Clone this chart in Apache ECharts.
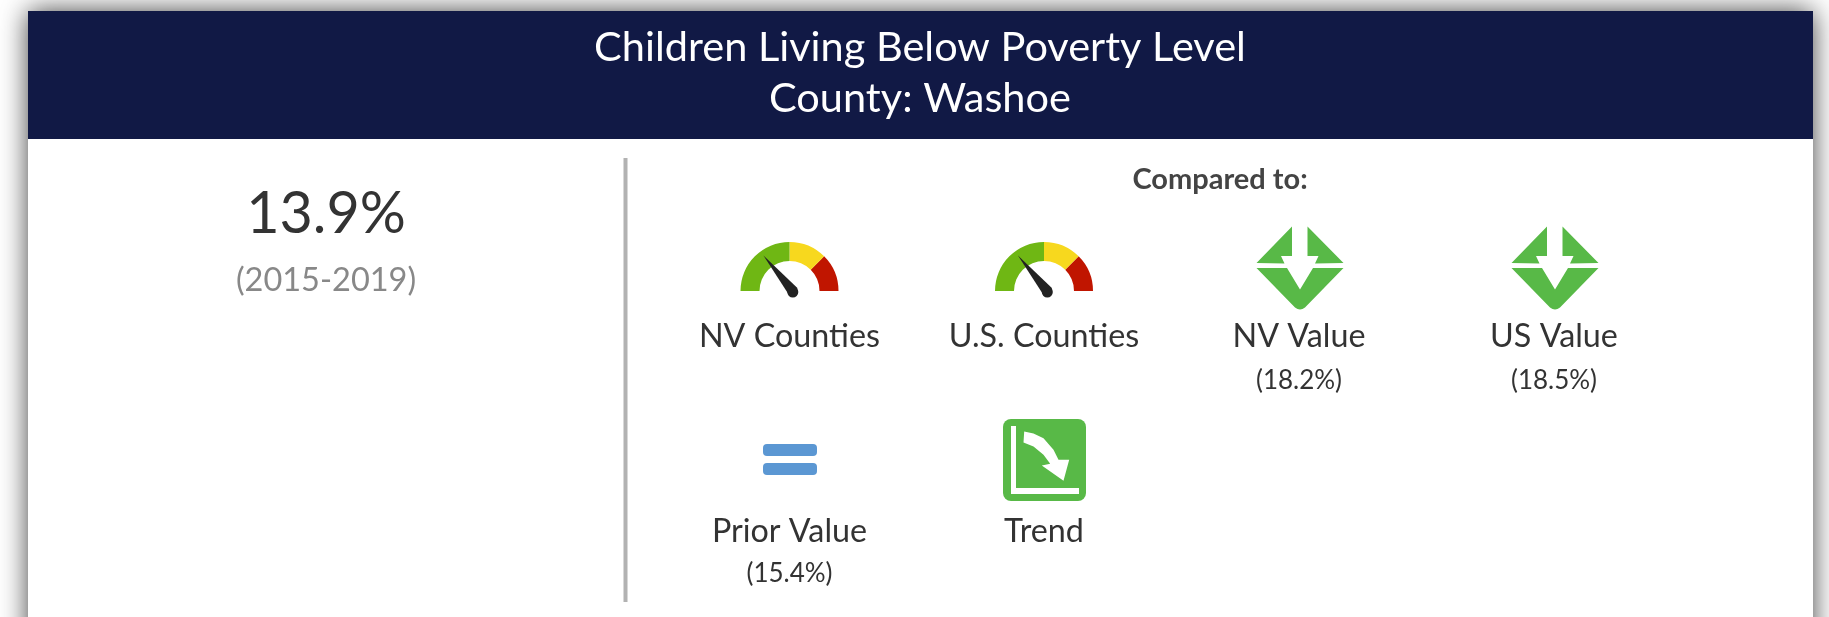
<!DOCTYPE html>
<html>
<head>
<meta charset="utf-8">
<title>Children Living Below Poverty Level</title>
<style>
html, body { margin: 0; padding: 0; background: #fff; }
#chart { width: 1829px; height: 617px; }
</style>
<script src="https://cdn.jsdelivr.net/npm/echarts@6/dist/echarts.min.js"></script>
</head>
<body>
<div id="chart"></div>
<script>
var titleLines = ['Children Living Below Poverty Level', 'County: Washoe'];
var mainValue = 13.9;
var period = '(2015-2019)';
var comparedTitle = 'Compared to:';
var itemLabels = ['NV Counties', 'U.S. Counties', 'NV Value', 'US Value', 'Prior Value', 'Trend'];
var itemValues = [null, null, 18.2, 18.5, 15.4, null];
var gaugeValues = [0.28, 0.28];

var FONT = 'Lato, "Open Sans", sans-serif';
var itemX = [789.5, 1044, 1299, 1554, 789.5, 1044];
var labelY = [337, 337, 337, 337, 532, 532];
var valueY = [381, 381, 381, 381, 574, 574];

// icon outlines, in px around the icon's own origin
var diamondParts = [
    [[-43.5, -2], [-8, -38.5], [-8, -9], [-19, -9], [-15.5, -1.5]],
    [[43.5, -2], [7.5, -38.5], [7.5, -9], [18.5, -9], [15, -1.5]],
    [[-43.5, 3], [-13, 3], [0, 24.5], [13, 3], [43.5, 3], [5, 42.5], [2.5, 44], [0, 44.5], [-2.5, 44], [-5, 42.5]]
];
var trendArrow = [
    [0.7, 0], [10, 2], [20, 6.7], [30, 18.3], [35, 28.3], [45.7, 28.3], [40, 49.3],
    [18.3, 34], [26.7, 32.3], [20, 23.3], [10, 15], [0, 11]
];

function text (str, x, y, size, fill, weight) {
    return {
        type: 'text',
        z: 5,
        style: {
            text: str,
            x: x,
            y: y,
            fill: fill,
            font: (weight || 'normal') + ' ' + size + 'px ' + FONT,
            align: 'center',
            verticalAlign: 'middle'
        }
    };
}

function polygon (points, x, y, fill) {
    return {
        type: 'polygon',
        z: 5,
        x: x,
        y: y,
        shape: { points: points },
        style: { fill: fill }
    };
}

function rect (x, y, w, h, r, fill) {
    return {
        type: 'rect',
        z: 5,
        shape: { x: x, y: y, width: w, height: h, r: r },
        style: { fill: fill }
    };
}

var graphics = [
    {
        type: 'rect',
        z: 1,
        shape: { x: 28, y: 11, width: 1785, height: 640 },
        style: { fill: '#fff', shadowBlur: 26, shadowColor: 'rgba(0,0,0,0.75)' }
    },
    rect(28, 11, 1785, 128, 0, '#111945'),
    rect(623.5, 158, 4, 444, 0, '#b2b2b2'),
    text(titleLines[0], 920, 48, 41.5, '#fff'),
    text(titleLines[1], 920, 99, 41.5, '#fff'),
    text(mainValue + '%', 326, 214, 57.5, '#333'),
    text(period, 326, 281, 32.5, '#888'),
    text(comparedTitle, 1220, 180, 29, '#444', 'bold'),
    rect(763, 444, 54, 12, 4, '#5b97d3'),
    rect(763, 463, 54, 12, 4, '#5b97d3'),
    rect(1003, 419, 83, 82, 8, '#58b947'),
    rect(1011, 426, 5, 68, 0, '#fff'),
    rect(1011, 488, 68, 6, 0, '#fff'),
    polygon(trendArrow, 1023.5, 431.5, '#fff')
];

[1300, 1555].forEach(function (x) {
    diamondParts.forEach(function (part) {
        graphics.push(polygon(part, x, 265, '#58b947'));
    });
});

itemLabels.forEach(function (label, i) {
    graphics.push(text(label, itemX[i], labelY[i], 32.3, '#333'));
    if (itemValues[i] !== null) {
        graphics.push(text('(' + itemValues[i].toFixed(1) + '%)', itemX[i], valueY[i], 26, '#333'));
    }
});

function gauge (value, x) {
    return {
        type: 'gauge',
        z: 6,
        center: [x, 291],
        radius: 49,
        min: 0,
        max: 1,
        startAngle: 180,
        endAngle: 0,
        animation: false,
        axisLine: {
            lineStyle: {
                width: 19,
                color: [[0.5, '#6fb714'], [0.75, '#f7d81e'], [1, '#c01500']]
            }
        },
        axisTick: { show: false },
        splitLine: { show: false },
        axisLabel: { show: false },
        pointer: {
            icon: 'path://M50 0L100 100L0 100Z',
            length: 47,
            width: 11,
            offsetCenter: [2.6, 3],
            itemStyle: { color: '#222' }
        },
        anchor: { show: true, size: 11, offsetCenter: [3.3, 1], itemStyle: { color: '#222' } },
        title: { show: false },
        detail: { show: false },
        data: [{ value: value }]
    };
}

var chart = echarts.init(document.getElementById('chart'));
chart.setOption({
    animation: false,
    backgroundColor: '#fff',
    graphic: { elements: graphics },
    series: [gauge(gaugeValues[0], 789.5), gauge(gaugeValues[1], 1044)]
});
</script>
</body>
</html>
